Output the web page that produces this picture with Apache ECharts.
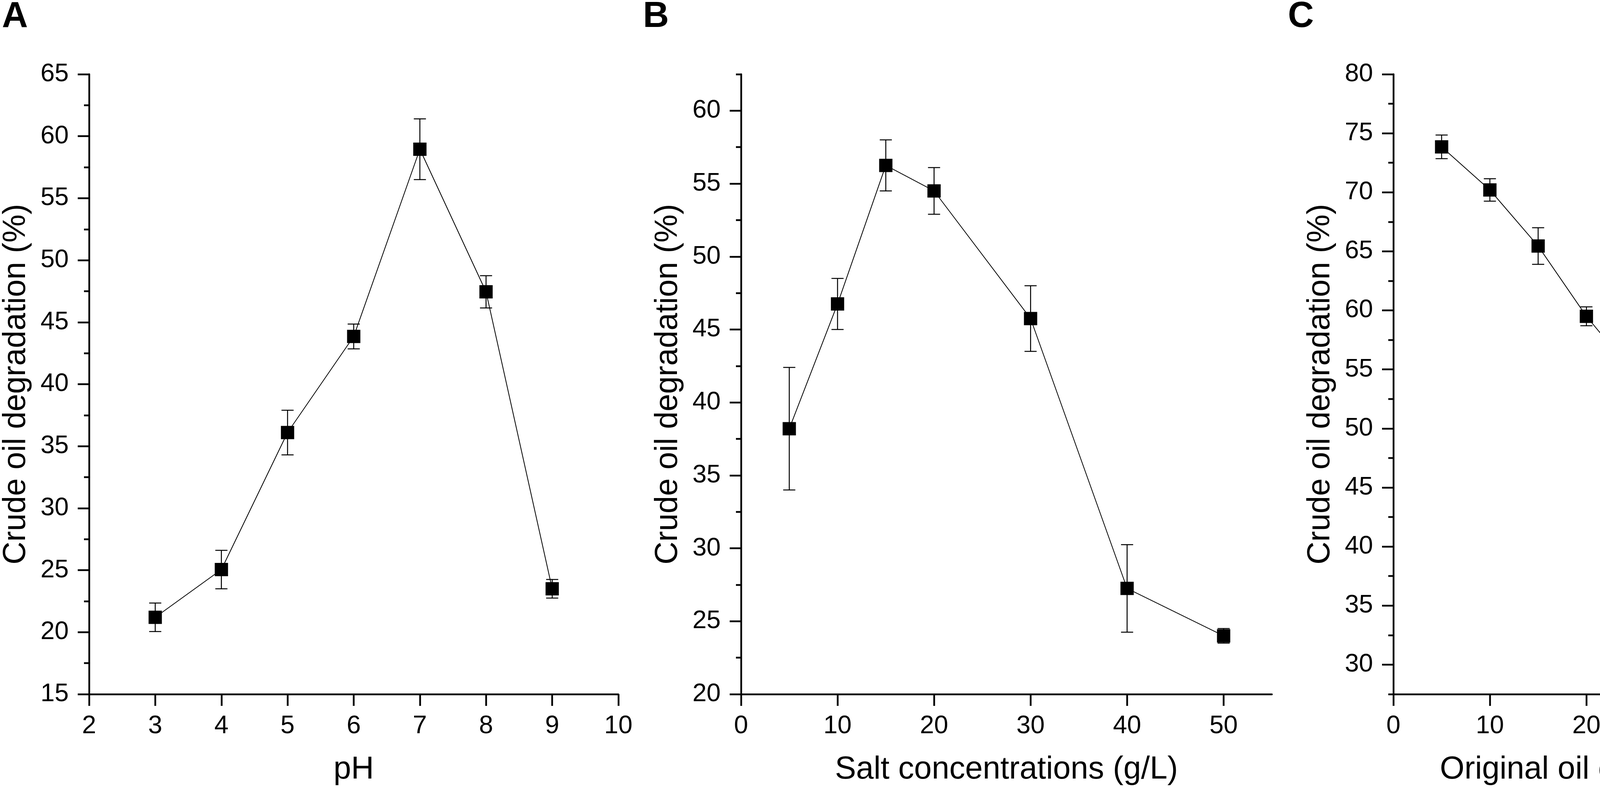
<!DOCTYPE html>
<html>
<head>
<meta charset="utf-8">
<title>Crude oil degradation</title>
<script src="https://cdn.jsdelivr.net/npm/echarts@6/dist/echarts.min.js"></script>
<style>
  html, body { margin: 0; padding: 0; background: #fff; }
  #chart { width: 4934px; height: 2030px; }
</style>
</head>
<body>
<div id="chart"></div>
<script>
// panel A: pH
var phValues = [3, 4, 5, 6, 7, 8, 9];
var phDegradation = [21.2, 25.05, 36.1, 43.85, 58.95, 47.45, 23.5];
var phError = [1.15, 1.55, 1.8, 1.0, 2.45, 1.3, 0.75];

// panel B: salt concentration (g/L)
var saltValues = [5, 10, 15, 20, 30, 40, 50];
var saltDegradation = [38.2, 46.75, 56.25, 54.5, 45.75, 27.25, 24.0];
var saltError = [4.2, 1.75, 1.75, 1.6, 2.25, 3.0, 0.5];

// panel C: original oil concentration (g/L)
var oilValues = [5, 10, 15, 20, 30, 40, 50];
var oilDegradation = [73.85, 70.2, 65.45, 59.5, 49.65, 44.15, 35.4];
var oilError = [1.0, 0.95, 1.55, 0.8, 2.05, 1.1, 3.0];

// tick labels
var phTicks = [2, 3, 4, 5, 6, 7, 8, 9, 10];
var concTicks = [0, 10, 20, 30, 40, 50];
var yTicksA = [15, 20, 25, 30, 35, 40, 45, 50, 55, 60, 65];
var yMinorA = [17.5, 22.5, 27.5, 32.5, 37.5, 42.5, 47.5, 52.5, 57.5, 62.5];
var yTicksB = [20, 25, 30, 35, 40, 45, 50, 55, 60];
var yMinorB = [22.5, 27.5, 32.5, 37.5, 42.5, 47.5, 52.5, 57.5, 62.5];
var yTicksC = [30, 35, 40, 45, 50, 55, 60, 65, 70, 75, 80];
var yMinorC = [27.5, 32.5, 37.5, 42.5, 47.5, 52.5, 57.5, 62.5, 67.5, 72.5, 77.5];

var panelLetters = ['A', 'B', 'C'];
var xTitles = ['pH', 'Salt concentrations (g/L)', 'Original oil concentrations (g/L)'];
var yTitle = 'Crude oil degradation (%)';

var FONT = '"Liberation Sans", Arial, Helvetica, sans-serif';
var AXIS_W = 4.5;

var panels = [
    { x: phValues, y: phDegradation, err: phError, xMin: 2, xMax: 10, xTicks: phTicks,
      yMin: 15, yMax: 65, yTicks: yTicksA, yMinor: yMinorA, left: 224, letterLeft: 5 },
    { x: saltValues, y: saltDegradation, err: saltError, xMin: 0, xMax: 55, xTicks: concTicks,
      yMin: 20, yMax: 62.5, yTicks: yTicksB, yMinor: yMinorB, left: 1897, letterLeft: 1646 },
    { x: oilValues, y: oilDegradation, err: oilError, xMin: 0, xMax: 55, xTicks: concTicks,
      yMin: 27.5, yMax: 80, yTicks: yTicksC, yMinor: yMinorC, left: 3567, letterLeft: 3297 }
];

// vertical error bar with caps, placed through the axes
function renderErrorBar(params, api) {
    var x = api.value(0);
    var low = api.coord([x, api.value(1)]);
    var high = api.coord([x, api.value(2)]);
    var half = 15.5;
    var style = { stroke: '#000', lineWidth: 2.5, fill: null };
    return {
        type: 'group',
        children: [
            { type: 'line', shape: { x1: high[0], y1: high[1], x2: low[0], y2: low[1] }, style: style },
            { type: 'line', shape: { x1: high[0] - half, y1: high[1], x2: high[0] + half, y2: high[1] }, style: style },
            { type: 'line', shape: { x1: low[0] - half, y1: low[1], x2: low[0] + half, y2: low[1] }, style: style }
        ]
    };
}

var grids = [], xAxes = [], yAxes = [], series = [], titles = [];
for (var i = 0; i < panels.length; i++) {
    var p = panels[i];
    grids.push({ left: p.left, top: 190, width: 1359, height: 1587, containLabel: false });
    titles.push({
        text: panelLetters[i], left: p.letterLeft, top: -2, padding: 0,
        textStyle: { fontFamily: FONT, fontSize: 92, fontWeight: 'bold', color: '#000' }
    });
    xAxes.push({
        gridIndex: i, type: 'value', min: p.xMin, max: p.xMax,
        name: xTitles[i], nameLocation: 'middle', nameGap: 153,
        nameTextStyle: { fontFamily: FONT, fontSize: 81, color: '#000' },
        axisLine: { show: true, onZero: false, lineStyle: { color: '#000', width: AXIS_W } },
        axisTick: { show: true, inside: false, length: 30, customValues: p.xTicks,
                    lineStyle: { color: '#000', width: AXIS_W } },
        axisLabel: { show: true, customValues: p.xTicks, margin: 50,
                     fontFamily: FONT, fontSize: 65, color: '#000' },
        splitLine: { show: false }
    });
    // main y axis: line, major ticks, labels, title
    yAxes.push({
        gridIndex: i, type: 'value', min: p.yMin, max: p.yMax,
        name: yTitle, nameLocation: 'middle', nameGap: 146, nameRotate: 90,
        nameTextStyle: { fontFamily: FONT, fontSize: 81, color: '#000' },
        axisLine: { show: true, onZero: false, lineStyle: { color: '#000', width: AXIS_W } },
        axisTick: { show: true, inside: false, length: 29, customValues: p.yTicks,
                    lineStyle: { color: '#000', width: AXIS_W } },
        axisLabel: { show: true, customValues: p.yTicks, margin: 52,
                     fontFamily: FONT, fontSize: 65, color: '#000' },
        splitLine: { show: false }
    });
    // second y axis on the same grid, only for the short minor ticks
    yAxes.push({
        gridIndex: i, type: 'value', min: p.yMin, max: p.yMax, position: 'left',
        axisLine: { show: false },
        axisTick: { show: true, inside: false, length: 13, customValues: p.yMinor,
                    lineStyle: { color: '#000', width: AXIS_W } },
        axisLabel: { show: false },
        splitLine: { show: false }
    });

    var points = [], bars = [];
    for (var j = 0; j < p.x.length; j++) {
        points.push([p.x[j], p.y[j]]);
        bars.push([p.x[j], p.y[j] - p.err[j], p.y[j] + p.err[j]]);
    }
    series.push({
        type: 'custom', xAxisIndex: i, yAxisIndex: 2 * i,
        renderItem: renderErrorBar, encode: { x: 0, y: [1, 2] },
        data: bars, z: 2, silent: true
    });
    series.push({
        type: 'line', xAxisIndex: i, yAxisIndex: 2 * i,
        data: points, symbol: 'rect', symbolSize: 34, showSymbol: true,
        lineStyle: { color: '#000', width: 2 },
        itemStyle: { color: '#000' },
        z: 3, silent: true
    });
}

var chart = echarts.init(document.getElementById('chart'), null, { renderer: 'canvas' });
chart.setOption({
    backgroundColor: '#fff',
    animation: false,
    title: titles,
    grid: grids,
    xAxis: xAxes,
    yAxis: yAxes,
    series: series
});
</script>
</body>
</html>
